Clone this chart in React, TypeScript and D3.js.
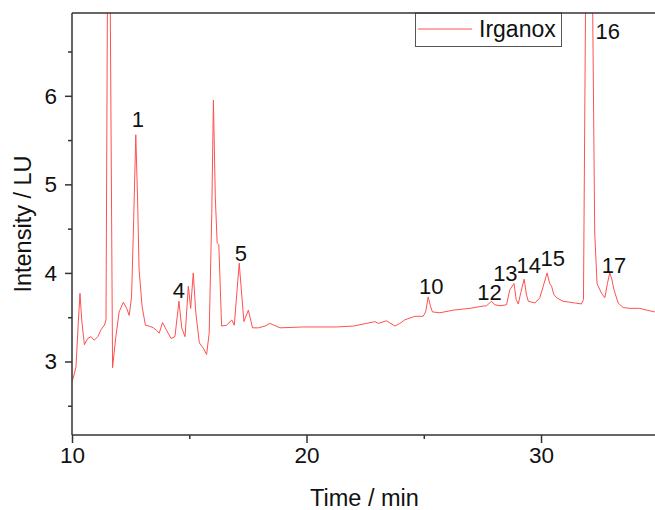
import React, { useEffect, useRef } from "react";
import * as d3 from "d3";

const times = [
  10.0, 10.05, 10.17, 10.26, 10.34, 10.42, 10.53, 10.67, 10.81, 10.95, 11.1, 11.24, 11.38, 11.45, 11.56, 11.73,
  11.87, 12.01, 12.19, 12.33, 12.44, 12.54, 12.63, 12.72, 12.8, 12.86, 12.99, 13.13, 13.29, 13.47, 13.61, 13.72,
  13.86, 14.02, 14.22, 14.39, 14.56, 14.68, 14.82, 14.96, 15.06, 15.17, 15.28, 15.43, 15.6, 15.74, 15.85, 15.96,
  16.03, 16.11, 16.19, 16.26, 16.38, 16.6, 16.81, 16.92, 17.13, 17.33, 17.52, 17.7, 17.95, 18.23, 18.44, 18.87,
  19.86, 21.28, 21.99, 22.56, 22.91, 23.06, 23.41, 23.53, 23.77, 23.98, 24.19, 24.62, 24.97, 25.08, 25.19, 25.29,
  25.37, 25.69, 26.26, 26.97, 27.39, 27.68, 27.89, 28.03, 28.25, 28.53, 28.67, 28.85, 28.94, 29.03, 29.14, 29.28,
  29.38, 29.46, 29.74, 29.95, 30.26, 30.37, 30.45, 30.54, 30.66, 30.94, 31.22, 31.46, 31.72, 31.81, 32.03, 32.29,
  32.39, 32.58, 32.72, 32.83, 32.93, 33.02, 33.11, 33.29, 33.5, 33.78, 34.21, 34.5, 34.85,
];
const intensity = [
  2.78, 2.81, 2.94, 3.4, 3.77, 3.45, 3.19, 3.26, 3.28, 3.24, 3.28, 3.36, 3.41, 3.47, 10.0, 2.93,
  3.28, 3.56, 3.67, 3.6, 3.52, 3.73, 4.6, 5.56, 4.8, 4.04, 3.62, 3.41, 3.4, 3.38, 3.35, 3.32,
  3.44, 3.36, 3.26, 3.28, 3.68, 3.38, 3.28, 3.85, 3.6, 4.0, 3.55, 3.21, 3.15, 3.08, 3.32, 4.67,
  5.95, 4.86, 4.34, 4.32, 3.4, 3.41, 3.47, 3.41, 4.11, 3.45, 3.58, 3.38, 3.38, 3.4, 3.43, 3.38,
  3.39, 3.39, 3.4, 3.43, 3.45, 3.43, 3.46, 3.44, 3.4, 3.43, 3.47, 3.51, 3.51, 3.56, 3.73, 3.62,
  3.56, 3.55, 3.58, 3.6, 3.62, 3.63, 3.68, 3.64, 3.63, 3.64, 3.81, 3.88, 3.7, 3.65, 3.78, 3.93,
  3.75, 3.68, 3.66, 3.72, 4.0, 3.88, 3.85, 3.76, 3.72, 3.68, 3.67, 3.66, 3.65, 3.7, 12.0, 4.45,
  3.88, 3.77, 3.72, 3.88, 4.0, 3.93, 3.81, 3.66, 3.61, 3.6, 3.6, 3.58, 3.56,
];

const peakLabels = ["1", "4", "5", "10", "12", "13", "14", "15", "16", "17"];
const peakTimes = [12.81, 14.56, 17.2, 25.32, 27.8, 28.48, 29.48, 30.5, 32.85, 33.11];
const peakLabelValues = [5.65, 3.72, 4.14, 3.76, 3.69, 3.91, 4.0, 4.08, 6.64, 4.0];

const xTicks = [10, 20, 30];
const xMinorTicks = [15, 25];
const yTicks = [3, 4, 5, 6];
const yMinorTicks = [2.5, 3.5, 4.5, 5.5, 6.5];
const seriesName = "Irganox";

const W = 655;
const H = 510;
const left = 72;
const right = 655;
const top = 13;
const bottom = 435;
const FONT = "'Liberation Sans', Arial, sans-serif";
const LINE_COLOR = "#ff5050";
const AXIS_COLOR = "#333";

export default function App() {
  const ref = useRef<SVGSVGElement>(null);

  useEffect(() => {
    const svg = d3.select(ref.current);
    svg.selectAll("*").remove();

    const x = d3.scaleLinear().domain([10, 34.86]).range([left, right]);
    const y = d3.scaleLinear().domain([2.17, 6.935]).range([bottom, top]);

    svg
      .append("defs")
      .append("clipPath")
      .attr("id", "plotclip")
      .append("rect")
      .attr("x", left)
      .attr("y", top)
      .attr("width", right - left)
      .attr("height", bottom - top);

    const data = times.map((t, i) => [t, intensity[i]] as [number, number]);
    const line = d3
      .line<[number, number]>()
      .x((d) => x(d[0]))
      .y((d) => y(d[1]));

    svg
      .append("path")
      .attr("d", line(data))
      .attr("fill", "none")
      .attr("stroke", LINE_COLOR)
      .attr("stroke-width", 1)
      .attr("clip-path", "url(#plotclip)");

    // axes
    const xAxis = d3.axisBottom(x).tickValues(xTicks).tickSize(8).tickPadding(4).tickFormat(d3.format("d"));
    const gx = svg.append("g").attr("transform", `translate(0,${bottom})`).call(xAxis);
    const xMinor = d3.axisBottom(x).tickValues(xMinorTicks).tickSize(4).tickFormat(() => "");
    const gxm = svg.append("g").attr("transform", `translate(0,${bottom})`).call(xMinor);

    const yAxis = d3.axisLeft(y).tickValues(yTicks).tickSize(7).tickPadding(8).tickFormat(d3.format("d"));
    const gy = svg.append("g").attr("transform", `translate(${left},0)`).call(yAxis);
    const yMinor = d3.axisLeft(y).tickValues(yMinorTicks).tickSize(4).tickFormat(() => "");
    const gym = svg.append("g").attr("transform", `translate(${left},0)`).call(yMinor);

    [gx, gxm, gy, gym].forEach((g) => {
      g.select(".domain").remove();
      g.selectAll("line").attr("stroke", AXIS_COLOR).attr("stroke-width", 1.5);
      g.selectAll("text").attr("font-family", FONT).attr("font-size", 22.5).attr("fill", "#111");
    });

    // frame lines
    svg.append("line").attr("x1", left).attr("x2", right).attr("y1", bottom).attr("y2", bottom)
      .attr("stroke", AXIS_COLOR).attr("stroke-width", 1.5);
    svg.append("line").attr("x1", left).attr("x2", left).attr("y1", top).attr("y2", bottom)
      .attr("stroke", AXIS_COLOR).attr("stroke-width", 1.5);

    // peak labels
    svg
      .append("g")
      .selectAll("text")
      .data(peakLabels)
      .join("text")
      .attr("x", (_, i) => x(peakTimes[i]))
      .attr("y", (_, i) => y(peakLabelValues[i]))
      .attr("text-anchor", "middle")
      .attr("font-family", FONT)
      .attr("font-size", 22)
      .attr("fill", "#111")
      .text((d) => d);

    // legend
    const lg = svg.append("g");
    lg.append("rect").attr("x", 415.5).attr("y", top).attr("width", 146).attr("height", 33.5)
      .attr("fill", "white").attr("stroke", "#555").attr("stroke-width", 1);
    lg.append("line").attr("x1", 418).attr("x2", 472).attr("y1", 29).attr("y2", 29)
      .attr("stroke", LINE_COLOR).attr("stroke-width", 1);
    lg.append("text").attr("x", 479).attr("y", 37.3).attr("font-family", FONT).attr("font-size", 23)
      .attr("fill", "#111").text(seriesName);

    // top frame line
    svg.append("line").attr("x1", left).attr("x2", right).attr("y1", top).attr("y2", top)
      .attr("stroke", AXIS_COLOR).attr("stroke-width", 1.5);

    // axis titles
    svg.append("text").attr("x", 364.5).attr("y", 506).attr("text-anchor", "middle")
      .attr("font-family", FONT).attr("font-size", 23.5).attr("fill", "#111").text("Time / min");
    svg.append("text").attr("transform", `translate(31,224) rotate(-90)`).attr("text-anchor", "middle")
      .attr("font-family", FONT).attr("font-size", 23.5).attr("fill", "#111").text("Intensity / LU");
  }, []);

  return (
    <svg
      ref={ref}
      width={W}
      height={H}
      style={{ position: "absolute", left: 0, top: 0, background: "white" }}
    />
  );
}
